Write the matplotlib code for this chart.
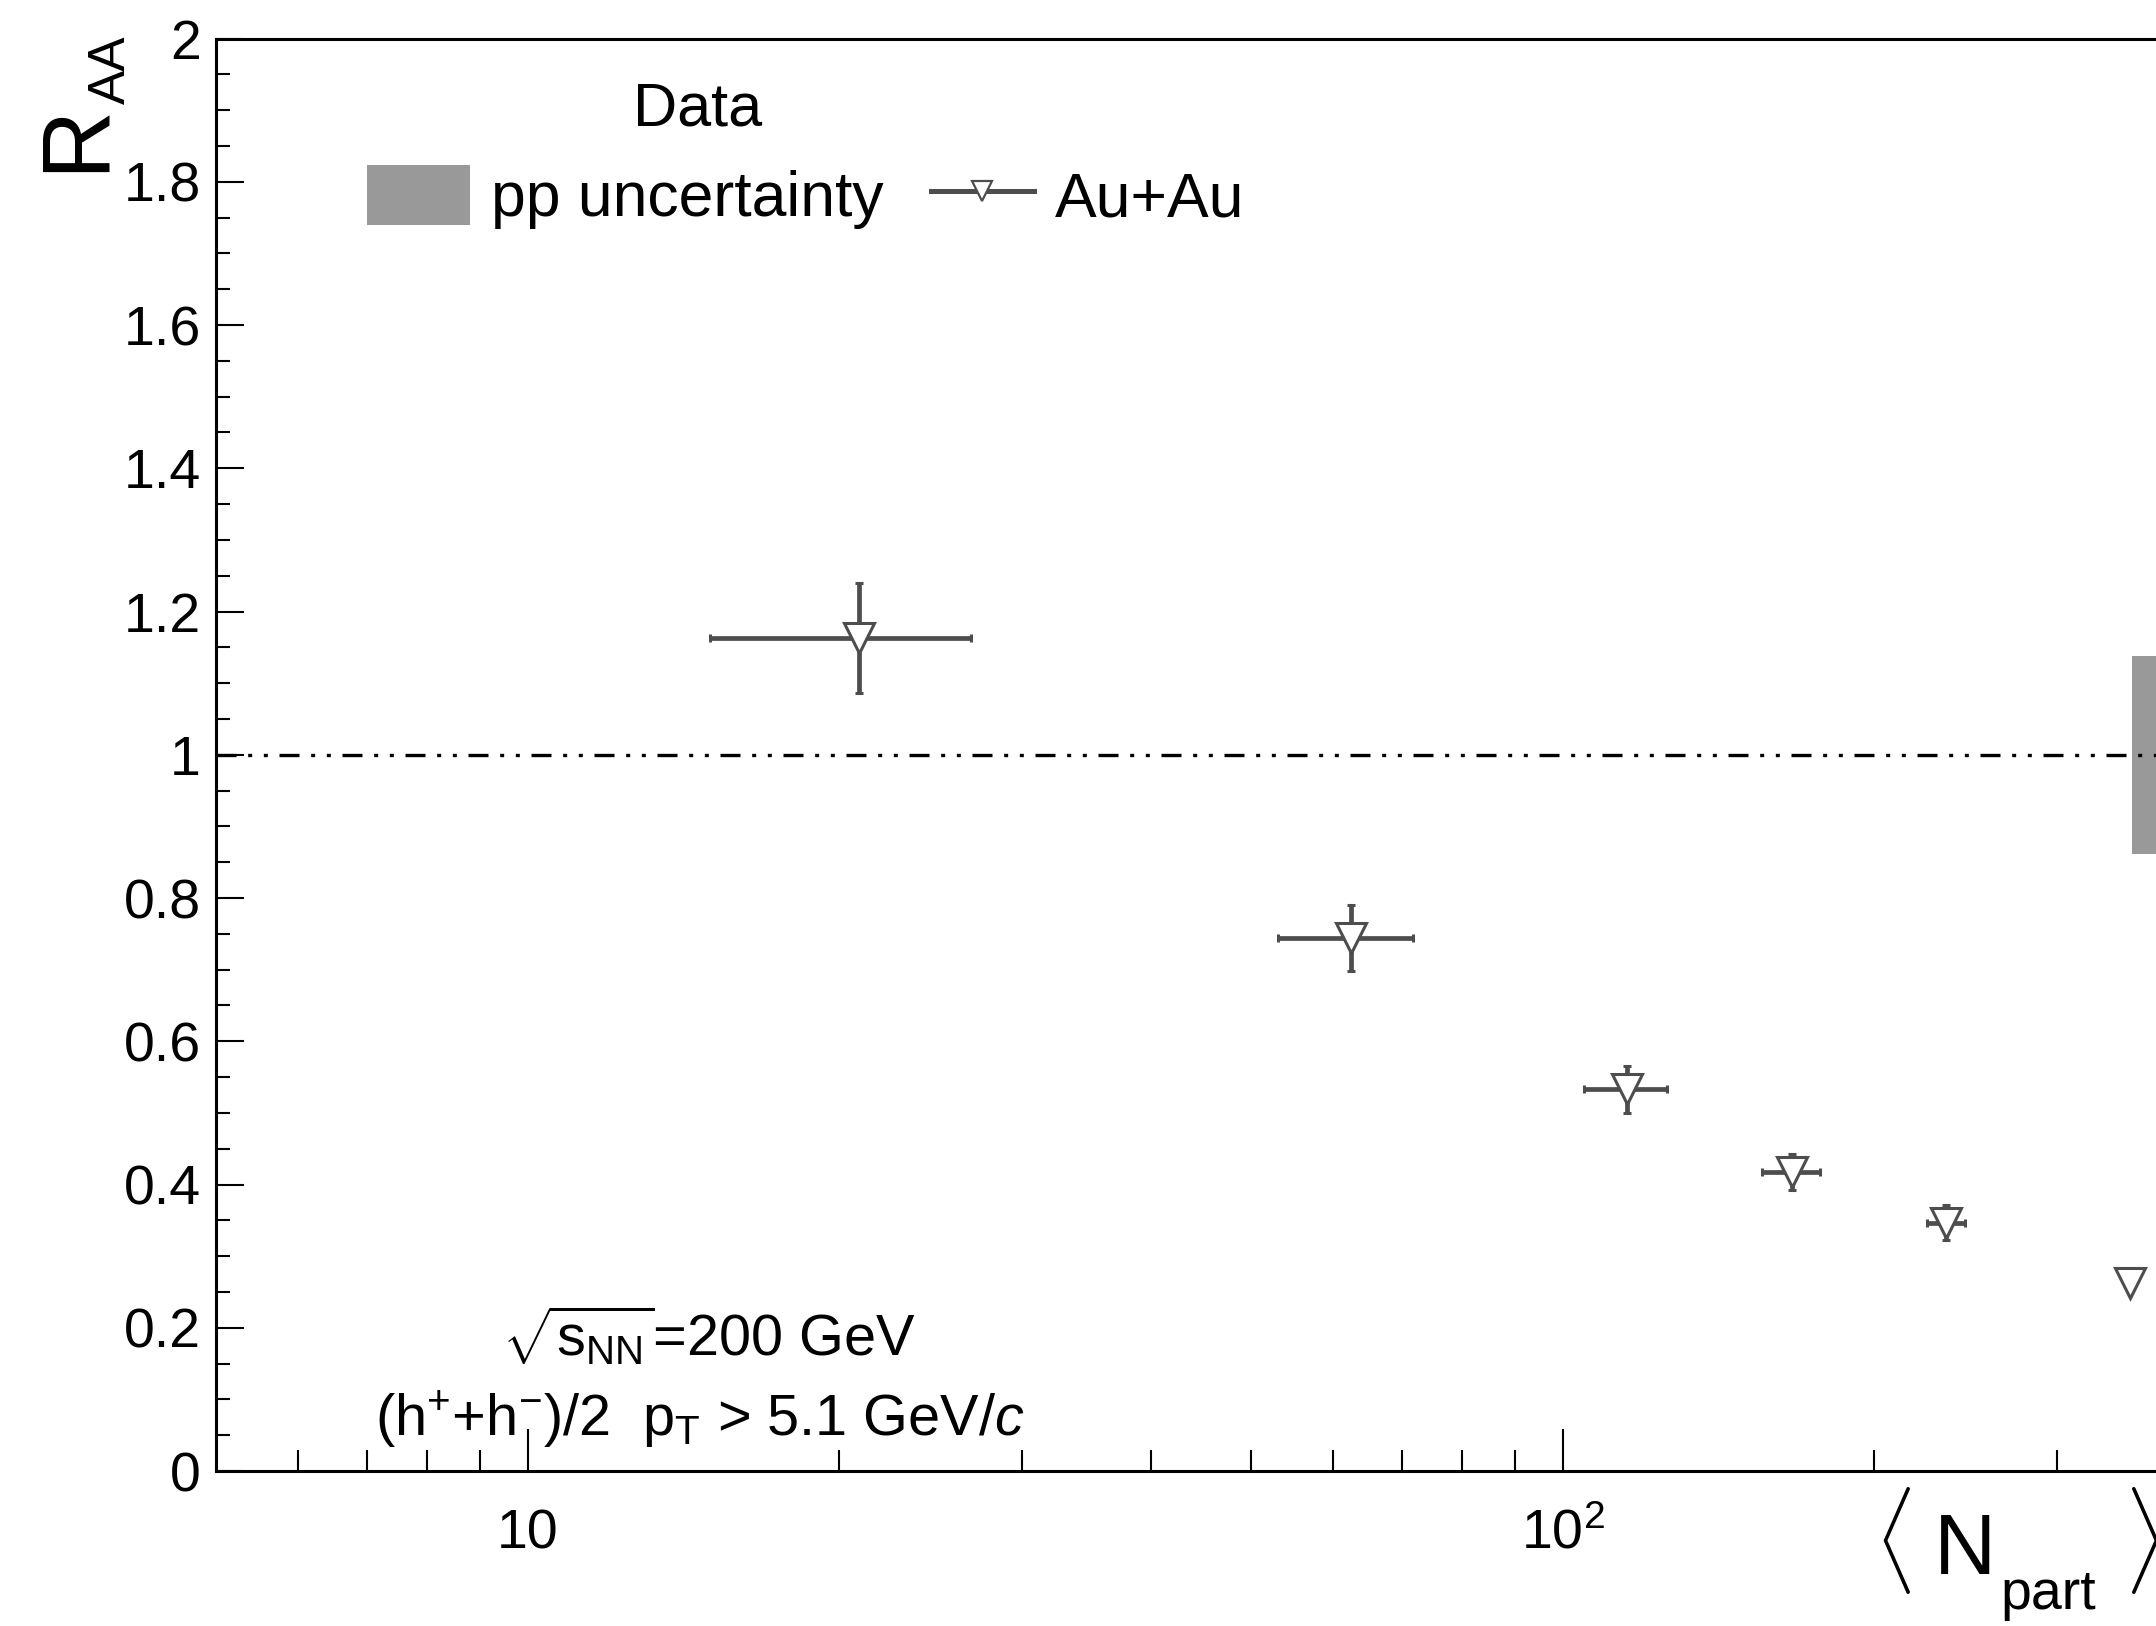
import numpy as np
import matplotlib
matplotlib.use("Agg")
import matplotlib.pyplot as plt
from matplotlib.lines import Line2D
from matplotlib.patches import Patch
from matplotlib.ticker import FixedLocator, FixedFormatter, MultipleLocator, FuncFormatter, NullFormatter

plt.rcParams['font.family'] = ['Liberation Sans', 'DejaVu Sans']
plt.rcParams['mathtext.fontset'] = 'custom'
plt.rcParams['mathtext.rm'] = 'Liberation Sans'
plt.rcParams['mathtext.it'] = 'Liberation Sans:italic'
plt.rcParams['mathtext.bf'] = 'Liberation Sans:bold'

# Au+Au R_AA vs <Npart>
npart = [20.9, 62.4, 115.4, 166.4, 234.8, 353.0]
npart_err = [5.9, 9.3, 10.6, 10.7, 10.0, 0.0]
raa = [1.163, 0.744, 0.533, 0.418, 0.347, 0.263]
raa_err = [0.077, 0.046, 0.033, 0.025, 0.025, 0.0]

# pp normalisation band at the right edge
pp_x = [355, 400]
pp_unc = 0.138

xmin, xmax = 5, 400
grey = '#4d4d4d'

fig = plt.figure(figsize=(21.56, 16.26), dpi=100)
ax = fig.add_axes([0.1002, 0.0953, 0.9137, 0.881])
ax.set_xscale('log')
ax.set_xlim(xmin, xmax)
ax.set_ylim(0, 2)

ax.fill_between(pp_x, 1 - pp_unc, 1 + pp_unc, color='#999999', lw=0, zorder=1)
ax.axhline(1, color='black', lw=2.4, ls=(0, (6, 3.5, 1.2, 3.5, 1.2, 3.5)), zorder=2)
ax.errorbar(npart, raa, xerr=npart_err, yerr=raa_err, fmt='v', ms=21,
            mfc='white', mec=grey, mew=2.2, color=grey, elinewidth=3.4,
            capsize=3.2, capthick=5, zorder=3)

# ticks, ROOT style (inside)
ax.xaxis.set_major_locator(FixedLocator([10, 100]))
ax.xaxis.set_major_formatter(FixedFormatter(['10', r'$10^{2}$']))
minor = [k * 10**e for e in (0, 1, 2) for k in range(2, 10)]
minor = [m for m in minor if xmin < m < xmax and m not in (10, 100)]
ax.xaxis.set_minor_locator(FixedLocator(minor))
ax.xaxis.set_minor_formatter(NullFormatter())
ax.yaxis.set_major_locator(MultipleLocator(0.2))
ax.yaxis.set_minor_locator(MultipleLocator(0.05))
ax.yaxis.set_major_formatter(FuncFormatter(lambda v, p: '%g' % round(v, 2)))

ax.tick_params(axis='x', which='major', direction='in', length=30, width=1.5, labelsize=40, pad=27)
ax.tick_params(axis='x', which='minor', direction='in', length=15, width=1.5)
ax.tick_params(axis='y', which='major', direction='in', length=20, width=1.5, labelsize=40, pad=11)
ax.tick_params(axis='y', which='minor', direction='in', length=10, width=1.5)
for s in ax.spines.values():
    s.set_linewidth(2.2)

# axis titles
fig.text(0.0150, 1 - 103 / 1626, 'R', rotation=90, fontsize=69, ha='left', va='top')
fig.text(0.0405, 1 - 36 / 1626, 'AA', rotation=90, fontsize=37, ha='left', va='top')

fig.text(0.869, 0.032, r'$\langle$', fontsize=64, ha='left', va='baseline')
fig.text(0.897, 0.032, 'N', fontsize=62, ha='left', va='baseline')
fig.text(0.928, 0.0105, 'part', fontsize=40, ha='left', va='baseline')
fig.text(0.985, 0.032, r'$\rangle$', fontsize=64, ha='left', va='baseline')

# legend
handles = [Patch(facecolor='#999999', edgecolor='none'),
           Line2D([], [], color=grey, lw=3.6, marker='v', ms=15, mfc='white', mec=grey, mew=1.6)]
ax.legend(handles, ['pp uncertainty', 'Au+Au'], ncol=2, frameon=False, fontsize=45,
          loc='upper left', bbox_to_anchor=(367 / 2156, 1 - 165 / 1626),
          bbox_transform=fig.transFigure, handlelength=1.65, handleheight=1.1,
          handletextpad=0.34, columnspacing=0.75, borderpad=0, borderaxespad=0)
fig.text(698 / 2156, 1 - 110 / 1626, 'Data', fontsize=44, ha='center', va='center')

fig.text(502 / 2156, 1 - 1356 / 1626, r'$\sqrt{\mathrm{s}_{\mathrm{NN}}}$=200 GeV',
         fontsize=41.5, ha='left', va='baseline')
fig.text(375 / 2156, 1 - 1435 / 1626, r'(h$^{+}$+h$^{-}$)/2  p$_{\mathrm{T}}$ > 5.1 GeV/$c$',
         fontsize=41.5, ha='left', va='baseline')

fig.savefig('out.png', dpi=100)
